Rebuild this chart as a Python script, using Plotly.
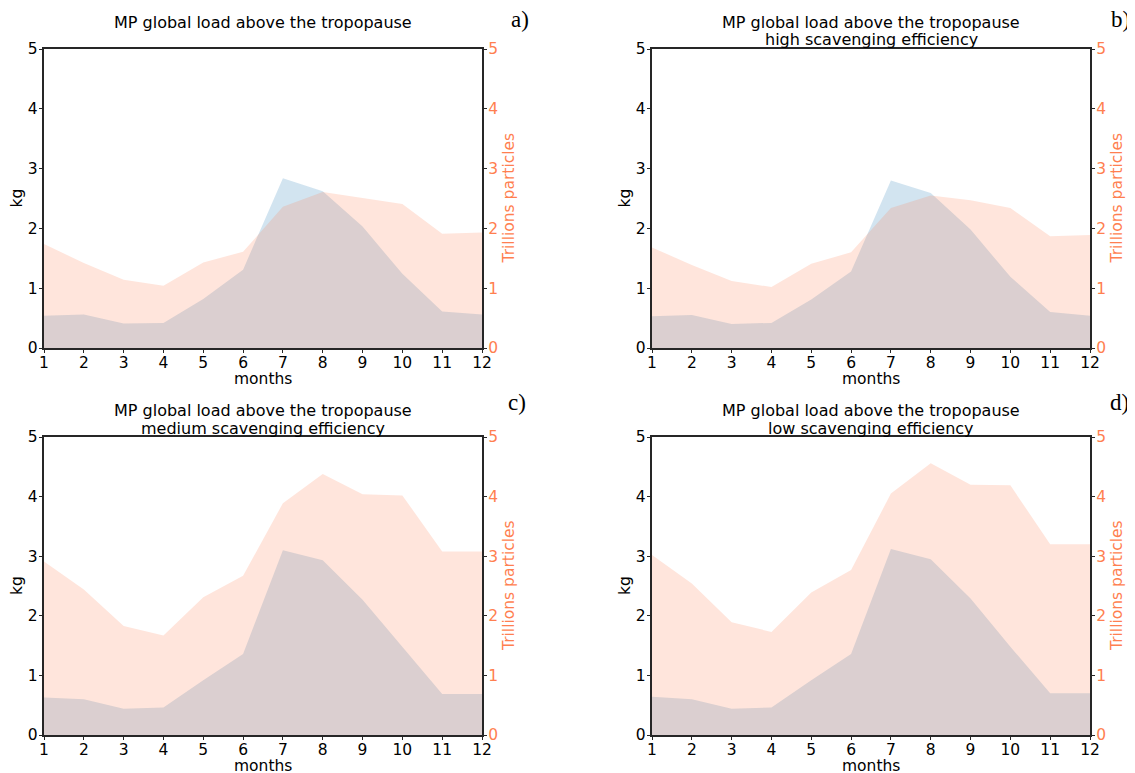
import plotly.graph_objects as go

months = [1, 2, 3, 4, 5, 6, 7, 8, 9, 10, 11, 12]

kg_a = [0.54, 0.56, 0.41, 0.42, 0.82, 1.31, 2.84, 2.62, 2.03, 1.24, 0.61, 0.56]
part_a = [1.74, 1.42, 1.14, 1.04, 1.43, 1.61, 2.36, 2.61, 2.51, 2.41, 1.91, 1.93]

kg_b = [0.53, 0.55, 0.40, 0.42, 0.81, 1.28, 2.80, 2.59, 1.98, 1.19, 0.60, 0.54]
part_b = [1.68, 1.39, 1.12, 1.02, 1.41, 1.60, 2.34, 2.55, 2.47, 2.34, 1.87, 1.89]

kg_c = [0.63, 0.60, 0.44, 0.46, 0.92, 1.36, 3.10, 2.93, 2.27, 1.48, 0.69, 0.69]
part_c = [2.91, 2.44, 1.83, 1.67, 2.31, 2.67, 3.89, 4.38, 4.04, 4.02, 3.08, 3.08]

kg_d = [0.64, 0.60, 0.44, 0.46, 0.92, 1.36, 3.12, 2.95, 2.29, 1.48, 0.70, 0.70]
part_d = [3.02, 2.54, 1.89, 1.73, 2.39, 2.77, 4.05, 4.56, 4.20, 4.19, 3.20, 3.20]

title_lines = [
    ["MP global load above the tropopause"],
    ["MP global load above the tropopause", "high scavenging efficiency"],
    ["MP global load above the tropopause", "medium scavenging efficiency"],
    ["MP global load above the tropopause", "low scavenging efficiency"],
]
panel_letters = ["a)", "b)", "c)", "d)"]
y_ticks = [0, 1, 2, 3, 4, 5]

W, H = 1135, 773
OFF = 8  # page body margin offset
# pixel boxes in the reference: (left, right, top, bottom)
boxes = [(44, 482, 49, 348), (652, 1090, 49, 348), (44, 482, 437, 735), (652, 1090, 437, 735)]
letter_pos = [(520, 20), (1120, 20), (517, 403), (1119, 403)]

BLUE = "rgba(31,119,180,0.2)"
CORAL = "rgba(255,127,80,0.2)"
CORAL_TXT = "#FF7F50"
SPINE = "#262626"
FONT = "DejaVu Sans"


def px(x):
    return (x - OFF) / W


def py(y):
    return (H - (y - OFF)) / H


fig = go.Figure()
series = [(kg_a, part_a), (kg_b, part_b), (kg_c, part_c), (kg_d, part_d)]
layout = {}
annotations = []
for i, ((kg, part), (l, r, t, b)) in enumerate(zip(series, boxes)):
    xi = i + 1
    yl = 2 * i + 1
    yr = 2 * i + 2
    xname = "x" if xi == 1 else f"x{xi}"
    ylname = "y" if yl == 1 else f"y{yl}"
    yrname = f"y{yr}"
    fig.add_trace(go.Scatter(x=months, y=kg, xaxis=xname, yaxis=ylname, mode="lines",
                             fill="tozeroy", fillcolor=BLUE, line=dict(width=0),
                             showlegend=False, hoverinfo="skip"))
    fig.add_trace(go.Scatter(x=months, y=part, xaxis=xname, yaxis=yrname, mode="lines",
                             fill="tozeroy", fillcolor=CORAL, line=dict(width=0),
                             showlegend=False, hoverinfo="skip"))
    xd = [px(l), px(r)]
    yd = [py(b), py(t)]
    xkey = "xaxis" if xi == 1 else f"xaxis{xi}"
    ylkey = "yaxis" if yl == 1 else f"yaxis{yl}"
    yrkey = f"yaxis{yr}"
    layout[xkey] = dict(domain=xd, range=[1, 12], anchor=ylname, tickmode="array",
                        tickvals=months, ticks="outside", ticklen=3.5, tickcolor=SPINE,
                        showline=True, linecolor=SPINE, linewidth=1.5, mirror=True,
                        showgrid=False, zeroline=False, automargin=False,
                        ticklabelstandoff=-4,
                        tickfont=dict(family=FONT, size=15.5, color="black"))
    layout[ylkey] = dict(domain=yd, range=[0, 5], anchor=xname, tickmode="array",
                         tickvals=y_ticks, ticks="outside", ticklen=3.5, tickcolor=SPINE,
                         showline=True, linecolor=SPINE, linewidth=1.5,
                         showgrid=False, zeroline=False, automargin=False,
                         ticklabelstandoff=-2,
                         tickfont=dict(family=FONT, size=15.5, color="black"))
    layout[yrkey] = dict(range=[0, 5], overlaying=ylname, anchor=xname, side="right",
                         tickmode="array", tickvals=y_ticks, ticks="outside", ticklen=3.5,
                         tickcolor=SPINE, showline=True, linecolor=SPINE, linewidth=1.5,
                         showgrid=False, zeroline=False, automargin=False,
                         ticklabelstandoff=-2,
                         tickfont=dict(family=FONT, size=15.5, color=CORAL_TXT))
    # panel title, one annotation per line
    for j, line in enumerate(title_lines[i]):
        annotations.append(dict(text=line, x=px((l + r) / 2), y=py(t - 27 + 18 * j),
                                xref="paper", yref="paper", xanchor="center", yanchor="middle",
                                showarrow=False,
                                font=dict(family=FONT, size=16, color="black")))
    # panel letter
    lx, ly = letter_pos[i]
    annotations.append(dict(text=panel_letters[i], x=px(lx), y=py(ly),
                            xref="paper", yref="paper", xanchor="center", yanchor="middle",
                            showarrow=False,
                            font=dict(family="Liberation Serif", size=23, color="black")))
    # axis titles
    annotations.append(dict(text="months", x=px((l + r) / 2), y=py(b + 31),
                            xref="paper", yref="paper", xanchor="center", yanchor="middle",
                            showarrow=False, font=dict(family=FONT, size=15.5, color="black")))
    annotations.append(dict(text="kg", x=px(l - 27), y=py((t + b) / 2),
                            xref="paper", yref="paper", xanchor="center", yanchor="middle",
                            showarrow=False, textangle=-90,
                            font=dict(family=FONT, size=15.5, color="black")))
    annotations.append(dict(text="Trillions particles", x=px(r + 27), y=py((t + b) / 2),
                            xref="paper", yref="paper", xanchor="center", yanchor="middle",
                            showarrow=False, textangle=-90,
                            font=dict(family=FONT, size=15.5, color=CORAL_TXT)))

fig.update_layout(**layout)
fig.update_layout(width=W, height=H, margin=dict(l=0, r=0, t=0, b=0, autoexpand=False),
                  plot_bgcolor="white", paper_bgcolor="white",
                  annotations=annotations, showlegend=False)
fig.write_html("out.html")
